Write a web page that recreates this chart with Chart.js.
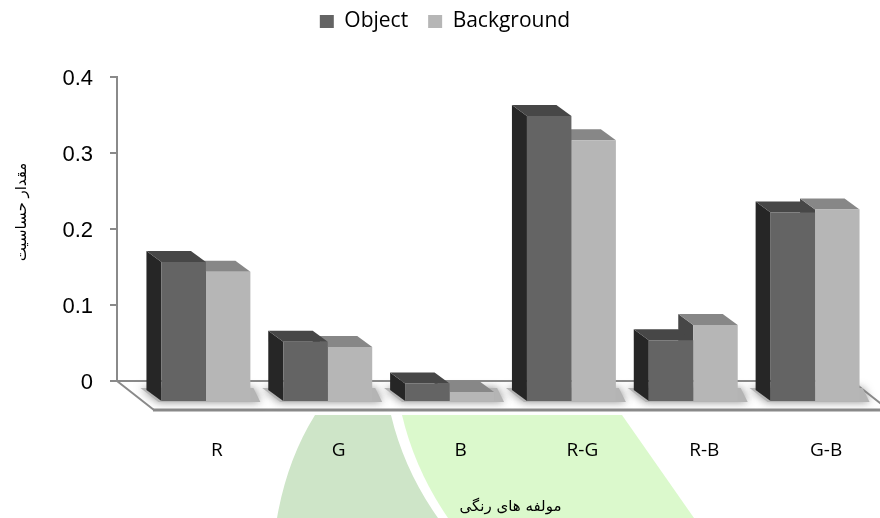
<!DOCTYPE html>
<html lang="en">
<head>
<meta charset="UTF-8">
<title>Chart</title>
<script src="https://cdn.jsdelivr.net/npm/chart.js"></script>
<style>
    body { margin: 0; background: white; }
    .wrap { position: relative; width: 880px; height: 518px; overflow: hidden; }
    .blob { position: absolute; left: 0; top: 0; width: 880px; height: 518px; }
    .blob-dark { background: #cee5c8; clip-path: path('M315 415 L391 415 Q404 470 438 518 L277 518 Q287 460 315 415 Z'); }
    .blob-light { background: #dbf9cc; clip-path: path('M402 415 L622 415 L694 518 L448 518 Q415 470 402 415 Z'); }
    canvas { position: absolute; left: 0; top: 0; }
</style>
</head>
<body>
<div class="wrap">
    <div class="blob blob-dark"></div>
    <div class="blob blob-light"></div>
    <canvas id="chart" width="880" height="518"></canvas>
</div>
<script>
const categories = ['R', 'G', 'B', 'R-G', 'R-B', 'G-B'];
const objectValues = [0.183, 0.078, 0.023, 0.375, 0.080, 0.248];
const backgroundValues = [0.170, 0.071, 0.012, 0.343, 0.100, 0.252];
const tickValues = [0, 0.1, 0.2, 0.3, 0.4];
const tickLabels = ['0', '0.1', '0.2', '0.3', '0.4'];

const depthX = 15, depthY = 11;   // oblique offset of the fake 3D boxes
const wallGap = 28;               // y axis line sits left of the plot area
const floorDepth = 29;

function poly(ctx, pts, fill) {
    ctx.beginPath();
    pts.forEach((p, i) => i ? ctx.lineTo(p[0], p[1]) : ctx.moveTo(p[0], p[1]));
    ctx.closePath();
    ctx.fillStyle = fill;
    ctx.fill();
}

function drawFaces(ctx, bar, sideColor, topColor) {
    const l = bar.x - bar.width / 2, r = bar.x + bar.width / 2;
    poly(ctx, [[l, bar.y], [l - depthX, bar.y - depthY], [l - depthX, bar.base - depthY], [l, bar.base]], sideColor);
    poly(ctx, [[l, bar.y], [l - depthX, bar.y - depthY], [r - depthX, bar.y - depthY], [r, bar.y]], topColor);
}

const fake3d = {
    id: 'fake3d',
    beforeInit(chart) {
        // room between legend and plot
        const fit = chart.legend.fit;
        chart.legend.fit = function () {
            fit.call(this);
            this.height = 86;
        };
    },
    beforeDatasetsDraw(chart) {
        const ctx = chart.ctx;
        const axis = chart.scales.yTicks;
        const left = chart.chartArea.left - wallGap;
        const zero = axis.getPixelForValue(0);
        const top = axis.getPixelForValue(0.4);
        ctx.save();

        // floor
        ctx.strokeStyle = '#8a8a8a';
        ctx.lineWidth = 2;
        ctx.beginPath();
        ctx.moveTo(left, zero);
        ctx.lineTo(852, zero);
        ctx.lineTo(852 + 37, zero + floorDepth);
        ctx.moveTo(left, zero);
        ctx.lineTo(left + 37, zero + floorDepth);
        ctx.stroke();
        ctx.lineWidth = 3;
        ctx.beginPath();
        ctx.moveTo(left + 36, zero + floorDepth);
        ctx.lineTo(880, zero + floorDepth);
        ctx.stroke();
        ctx.lineWidth = 2;

        // y axis line and tick marks
        ctx.beginPath();
        ctx.moveTo(left, top - 1);
        ctx.lineTo(left, zero);
        tickValues.forEach(v => {
            const y = axis.getPixelForValue(v);
            ctx.moveTo(left - 7, y);
            ctx.lineTo(left, y);
        });
        ctx.stroke();

        // soft shadow under each group
        const objBars = chart.getDatasetMeta(0).data;
        const bgBars = chart.getDatasetMeta(1).data;
        objBars.forEach((bar, i) => {
            const l = bar.x - bar.width / 2;
            const r = bgBars[i].x + bgBars[i].width / 2;
            ctx.save();
            ctx.shadowColor = 'rgba(130,130,130,0.9)';
            ctx.shadowBlur = 9;
            poly(ctx, [[l - depthX - 6, bar.base - depthY - 2], [r + 3, bar.base - depthY - 2], [r + 10, bar.base + 1], [l - 3, bar.base + 1]], '#b4b4b4');
            ctx.restore();
        });

        // side and top faces, background series first
        bgBars.forEach(bar => drawFaces(ctx, bar, '#474747', '#878787'));
        objBars.forEach(bar => drawFaces(ctx, bar, '#262626', '#474747'));

        // rotated y title
        ctx.translate(22, 212);
        ctx.rotate(-Math.PI / 2);
        ctx.font = '15px "DejaVu Sans"';
        ctx.fillStyle = '#000';
        ctx.textAlign = 'center';
        ctx.textBaseline = 'middle';
        ctx.fillText('مقدار حساسیت', 0, 0);
        ctx.restore();
    }
};

new Chart(document.getElementById('chart'), {
    type: 'bar',
    data: {
        labels: categories,
        datasets: [
            { label: 'Object', data: objectValues, backgroundColor: '#646464', categoryPercentage: 0.73, barPercentage: 1 },
            { label: 'Background', data: backgroundValues, backgroundColor: '#b6b6b6', categoryPercentage: 0.73, barPercentage: 1 }
        ]
    },
    plugins: [fake3d],
    options: {
        responsive: false,
        animation: false,
        layout: { padding: { left: 14, right: 4, top: -9, bottom: 0 } },
        plugins: {
            tooltip: { enabled: false },
            legend: {
                position: 'top',
                labels: {
                    boxWidth: 14, boxHeight: 13, padding: 20,
                    color: '#000',
                    font: { family: '"Open Sans"', size: 21 }
                }
            }
        },
        scales: {
            x: {
                grid: { display: false, drawTicks: false },
                border: { display: false },
                afterFit(axis) { axis.height = 117; },
                ticks: {
                    padding: 38,
                    labelOffset: 11,
                    maxRotation: 0,
                    color: '#000',
                    font: { family: '"Open Sans"', size: 19 }
                },
                title: {
                    display: true,
                    text: 'مولفه های رنگی',
                    color: '#000',
                    padding: { top: 0, bottom: 2 },
                    font: { family: '"DejaVu Sans"', size: 15 }
                }
            },
            // bars measure from the front of the floor
            y: {
                display: false,
                min: 0,
                max: 0.4263
            },
            // printed scale measures from the back wall
            yTicks: {
                position: 'left',
                min: -0.0263,
                max: 0.4,
                grid: { display: false, drawTicks: false },
                border: { display: false },
                afterFit(axis) { axis.width = 131; },
                afterBuildTicks(axis) { axis.ticks = tickValues.map(v => ({ value: v })); },
                ticks: {
                    padding: 52,
                    labelOffset: 2,
                    autoSkip: false,
                    color: '#000',
                    font: { family: '"Liberation Sans"', size: 22 },
                    callback: (v) => tickLabels[tickValues.indexOf(v)]
                }
            }
        }
    }
});
</script>
</body>
</html>
